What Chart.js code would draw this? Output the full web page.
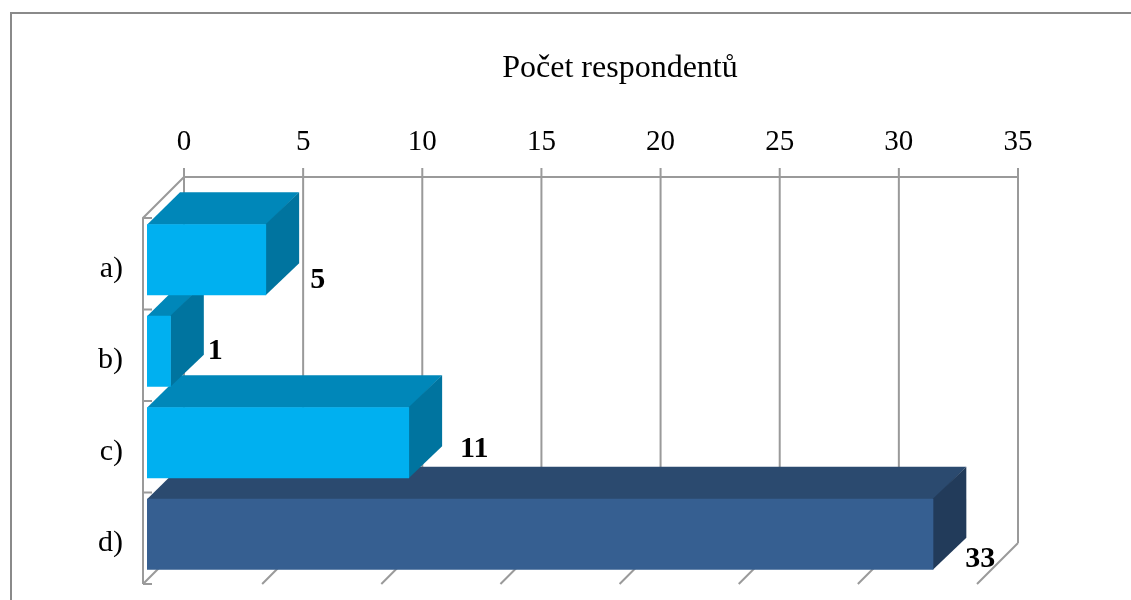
<!DOCTYPE html>
<html lang="cs">
<head>
<meta charset="utf-8">
<title>Počet respondentů</title>
<script src="https://cdn.jsdelivr.net/npm/chart.js@4.4.1/dist/chart.umd.min.js"></script>
<style>
  html, body { margin: 0; padding: 0; background: #fff; }
  #chart { display: block; }
</style>
</head>
<body>
<canvas id="chart" width="1131" height="600"></canvas>
<script>
const categories = ['a)', 'b)', 'c)', 'd)'];
const respondents = [5, 1, 11, 33];
const axisTicks = [0, 5, 10, 15, 20, 25, 30, 35];
const chartTitle = 'Počet respondentů';

// box faces: front / top / side
const frontColors = ['#00b0f0', '#00b0f0', '#00b0f0', '#365f91'];
const topColors = ['#0087b9', '#0087b9', '#0087b9', '#2b4a6f'];
const sideColors = ['#00749f', '#00749f', '#00749f', '#223b5a'];

// value label offsets from bar end / bar centre
const labelNudge = [[44, 28], [37, 8], [51, 14], [32, 33]];

const SERIF = '"Liberation Serif", "Times New Roman", serif';
const GRID = '#9a9a9a';
const BAR_DX = 33, BAR_DY = -32;  // bar depth
const WALL_FRONT = 4;             // floor edge -> bar fronts
const WALL_BACK = 37;             // bar fronts -> back wall

const box3d = {
    id: 'box3d',
    beforeDraw(chart) {
        const ctx = chart.ctx;
        ctx.save();
        ctx.fillStyle = '#fff';
        ctx.fillRect(0, 0, chart.width, chart.height);
        ctx.strokeStyle = '#8a8a8a';
        ctx.lineWidth = 2;
        ctx.strokeRect(11, 13, chart.width + 50, chart.height + 50);
        ctx.fillStyle = '#000';
        ctx.font = '32px ' + SERIF;
        ctx.textAlign = 'center';
        ctx.textBaseline = 'alphabetic';
        ctx.fillText(chartTitle, 620, 77);
        ctx.restore();
    },
    beforeDatasetsDraw(chart) {
        const { ctx, chartArea: a, scales: { x } } = chart;
        const band = (a.bottom - a.top) / categories.length;
        const bTop = a.top - WALL_BACK, bBot = a.bottom - WALL_BACK;

        ctx.save();
        ctx.strokeStyle = GRID;
        ctx.lineWidth = 2;
        ctx.beginPath();
        // back wall + floor
        ctx.moveTo(x.getPixelForValue(axisTicks[0]) + WALL_BACK, bTop);
        ctx.lineTo(x.getPixelForValue(axisTicks[axisTicks.length - 1]) + WALL_BACK, bTop);
        axisTicks.forEach(v => {
            const px = x.getPixelForValue(v);
            ctx.moveTo(px + WALL_BACK, bTop - 9);
            ctx.lineTo(px + WALL_BACK, bBot);
            ctx.moveTo(px - WALL_FRONT, a.bottom + WALL_FRONT);
            ctx.lineTo(px + WALL_BACK, bBot);
        });
        // left wall
        const wx = a.left - WALL_FRONT;
        ctx.moveTo(a.left + WALL_BACK, bTop);
        ctx.lineTo(wx, a.top + WALL_FRONT);
        ctx.lineTo(wx, a.bottom + WALL_FRONT);
        for (let i = 0; i <= categories.length; i++) {
            const py = a.top + WALL_FRONT + i * band;
            ctx.moveTo(wx, py);
            ctx.lineTo(wx + 9, py);
        }
        ctx.stroke();

        // top and side faces, lowest bar first
        const meta = chart.getDatasetMeta(0);
        for (let i = meta.data.length - 1; i >= 0; i--) {
            const { x: ex, y: ey, base, height } = meta.data[i].getProps(['x', 'y', 'base', 'height'], true);
            const t = ey - height / 2, b = ey + height / 2;

            ctx.fillStyle = topColors[i];
            ctx.beginPath();
            ctx.moveTo(base, t + 0.5);
            ctx.lineTo(ex + 0.5, t + 0.5);
            ctx.lineTo(ex + BAR_DX, t + BAR_DY);
            ctx.lineTo(base + BAR_DX, t + BAR_DY);
            ctx.closePath();
            ctx.fill();

            ctx.fillStyle = sideColors[i];
            ctx.beginPath();
            ctx.moveTo(ex - 0.5, t);
            ctx.lineTo(ex + BAR_DX, t + BAR_DY);
            ctx.lineTo(ex + BAR_DX, b + BAR_DY);
            ctx.lineTo(ex - 0.5, b);
            ctx.closePath();
            ctx.fill();
        }
        ctx.restore();
    },
    afterDatasetsDraw(chart) {
        const ctx = chart.ctx;
        const meta = chart.getDatasetMeta(0);
        ctx.save();
        ctx.fillStyle = '#000';
        ctx.font = 'bold 30px ' + SERIF;
        ctx.textAlign = 'left';
        ctx.textBaseline = 'alphabetic';
        meta.data.forEach((bar, i) => {
            const { x: ex, y: ey } = bar.getProps(['x', 'y'], true);
            ctx.fillText(String(respondents[i]), ex + labelNudge[i][0], ey + labelNudge[i][1]);
        });
        ctx.restore();
    }
};

// axis sizes are fixed so the plot sits where the walls are drawn
function noPadding(s) {
    s.paddingTop = 0;
    s.paddingBottom = 0;
    s.paddingLeft = 0;
    s.paddingRight = 0;
}

new Chart(document.getElementById('chart'), {
    type: 'bar',
    data: {
        labels: categories,
        datasets: [{
            label: chartTitle,
            data: respondents,
            backgroundColor: frontColors,
            borderWidth: 0,
            categoryPercentage: 1,
            barPercentage: 0.776
        }]
    },
    options: {
        indexAxis: 'y',
        responsive: false,
        animation: false,
        layout: { padding: { left: 0, top: 0, right: 150, bottom: 20 } },
        plugins: {
            legend: { display: false },
            title: { display: false },
            tooltip: { enabled: false }
        },
        scales: {
            x: {
                position: 'top',
                min: 0,
                max: 35,
                grid: { display: false, drawTicks: false },
                border: { display: false },
                afterBuildTicks: s => { s.ticks = axisTicks.map(v => ({ value: v })); },
                afterFit: s => { s.height = 214; noPadding(s); },
                ticks: {
                    padding: 54,
                    labelOffset: WALL_BACK,
                    color: '#000',
                    font: { family: SERIF, size: 29, lineHeight: 1.2 }
                }
            },
            y: {
                grid: { display: false, drawTicks: false },
                border: { display: false },
                afterFit: s => { s.width = 147; noPadding(s); },
                ticks: {
                    padding: 24,
                    labelOffset: 9,
                    color: '#000',
                    font: { family: SERIF, size: 30, lineHeight: 1.2 }
                }
            }
        }
    },
    plugins: [box3d]
});
</script>
</body>
</html>
